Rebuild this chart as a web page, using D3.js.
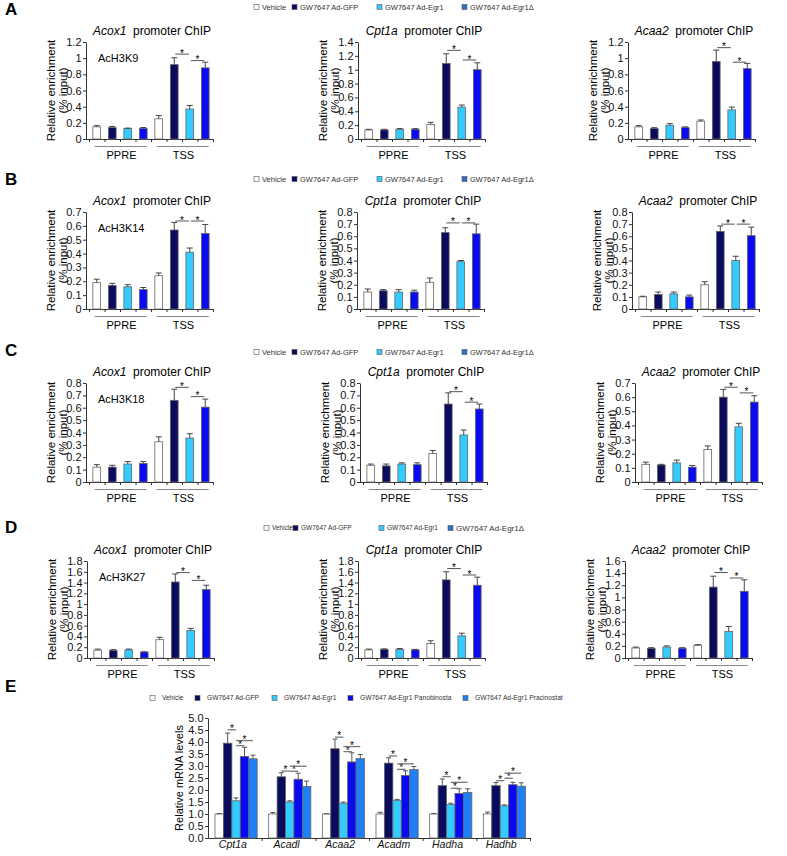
<!DOCTYPE html>
<html>
<head>
<meta charset="utf-8">
<script src="https://cdn.jsdelivr.net/npm/d3@7"></script>
<style>
  body { margin: 0; background: #fff; }
  svg { display: block; font-family: Arial, "Liberation Sans", sans-serif; }
  .axis path, .axis line { stroke: #333; }
  .axis text { font-size: 11px; fill: #111; font-family: Arial, "Liberation Sans", sans-serif; }
</style>
</head>
<body>
<svg id="fig" width="787" height="856"></svg>
<script>
// ---- ChIP panels (A-D) ----
const chipSeries = ["Vehicle", "GW7647 Ad-GFP", "GW7647 Ad-Egr1", "GW7647 Ad-Egr1\u0394"];
const chipColors = ["#ffffff", "#0b0b5e", "#33ccff", "#0a0af0"];
const chipLegendColors = ["#ffffff", "#0b0b5e", "#33ccff", "#2f6fc9"];
const regions = ["PPRE", "TSS"];
const genes = ["Acox1", "Cpt1a", "Acaa2"];
const marks = ["AcH3K9", "AcH3K14", "AcH3K18", "AcH3K27"];

// each gene: PPRE (4 series) then TSS (4 series)
const k9Values = [
  [0.15, 0.14, 0.13, 0.13, 0.25, 0.92, 0.37, 0.88],
  [0.13, 0.13, 0.14, 0.14, 0.21, 1.09, 0.46, 1.00],
  [0.15, 0.13, 0.17, 0.14, 0.22, 0.96, 0.36, 0.87]
];
const k9Errors = [
  [0.015, 0.015, 0.005, 0.012, 0.04, 0.085, 0.045, 0.07],
  [0.01, 0.01, 0.01, 0.01, 0.03, 0.14, 0.03, 0.10],
  [0.015, 0.01, 0.02, 0.01, 0.015, 0.14, 0.035, 0.065]
];
const k9Sig = [[1.05, 0.97], [1.28, 1.14], [1.13, 0.95]];
const k9Max = [1.2, 1.4, 1.2];

const k14Values = [
  [0.19, 0.17, 0.16, 0.14, 0.24, 0.57, 0.41, 0.545],
  [0.14, 0.15, 0.14, 0.14, 0.22, 0.63, 0.39, 0.62],
  [0.10, 0.12, 0.125, 0.10, 0.20, 0.64, 0.40, 0.605]
];
const k14Errors = [
  [0.025, 0.015, 0.015, 0.015, 0.02, 0.055, 0.03, 0.065],
  [0.025, 0.01, 0.02, 0.015, 0.035, 0.04, 0.01, 0.08],
  [0.005, 0.02, 0.015, 0.015, 0.025, 0.045, 0.035, 0.07]
];
const k14Sig = [[0.635, 0.635], [0.71, 0.71], [0.70, 0.70]];
const k14Max = [0.7, 0.8, 0.8];

const k18Values = [
  [0.12, 0.12, 0.145, 0.15, 0.325, 0.66, 0.355, 0.605],
  [0.135, 0.13, 0.145, 0.14, 0.23, 0.63, 0.38, 0.59],
  [0.125, 0.12, 0.135, 0.105, 0.23, 0.60, 0.39, 0.565]
];
const k18Errors = [
  [0.02, 0.015, 0.02, 0.015, 0.04, 0.09, 0.035, 0.065],
  [0.01, 0.015, 0.01, 0.015, 0.025, 0.09, 0.04, 0.04],
  [0.015, 0.005, 0.02, 0.012, 0.025, 0.055, 0.025, 0.045]
];
const k18Sig = [[0.765, 0.69], [0.73, 0.645], [0.67, 0.63]];
const k18Max = [0.8, 0.8, 0.7];

const k27Values = [
  [0.145, 0.14, 0.15, 0.11, 0.34, 1.41, 0.51, 1.27],
  [0.15, 0.16, 0.16, 0.15, 0.27, 1.45, 0.41, 1.35],
  [0.165, 0.16, 0.18, 0.16, 0.21, 1.17, 0.44, 1.10]
];
const k27Errors = [
  [0.02, 0.015, 0.015, 0.005, 0.045, 0.15, 0.04, 0.08],
  [0.015, 0.01, 0.015, 0.01, 0.05, 0.15, 0.05, 0.15],
  [0.015, 0.01, 0.02, 0.01, 0.01, 0.18, 0.08, 0.19]
];
const k27Sig = [[1.585, 1.44], [1.66, 1.54], [1.41, 1.32]];
const k27Max = [1.8, 1.8, 1.6];

// ---- mRNA panel (E) ----
const mrnaSeries = ["Vehicle", "GW7647 Ad-GFP", "GW7647 Ad-Egr1", "GW7647 Ad-Egr1 Panobinosta", "GW7647 Ad-Egr1 Pracinostat"];
const mrnaColors = ["#ffffff", "#0b0b5e", "#33ccff", "#0a0af0", "#1f7ff5"];
const mrnaGenes = ["Cpt1a", "Acadl", "Acaa2", "Acadm", "Hadha", "Hadhb"];
const mrnaVehicle = [1.0, 1.0, 1.0, 1.0, 1.0, 1.0];
const mrnaGfp = [3.95, 2.55, 3.72, 3.12, 2.18, 2.18];
const mrnaEgr1 = [1.55, 1.50, 1.45, 1.57, 1.40, 1.34];
const mrnaPano = [3.40, 2.45, 3.17, 2.60, 1.85, 2.22];
const mrnaPraci = [3.30, 2.15, 3.31, 2.85, 1.90, 2.16];
const mrnaVehicleErr = [0.02, 0.06, 0.01, 0.07, 0.02, 0.08];
const mrnaGfpErr = [0.42, 0.17, 0.40, 0.22, 0.28, 0.13];
const mrnaEgr1Err = [0.12, 0.05, 0.05, 0.04, 0.05, 0.04];
const mrnaPanoErr = [0.38, 0.25, 0.38, 0.20, 0.20, 0.10];
const mrnaPraciErr = [0.15, 0.22, 0.17, 0.13, 0.15, 0.14];
const sigGfpEgr1 = [4.51, 2.79, 4.20, 3.42, 2.56, 2.39];
const sigEgr1Pano = [3.85, 2.78, 3.60, 2.86, 2.07, 2.49];
const sigEgr1Praci = [4.06, 2.99, 3.81, 3.09, 2.32, 2.70];

const svg = d3.select("#fig");
svg.append("rect").attr("width", 787).attr("height", 856).attr("fill", "#fff");

const chipRows = [
  { mark: marks[0], values: k9Values, errors: k9Errors, sig: k9Sig, max: k9Max },
  { mark: marks[1], values: k14Values, errors: k14Errors, sig: k14Sig, max: k14Max },
  { mark: marks[2], values: k18Values, errors: k18Errors, sig: k18Sig, max: k18Max },
  { mark: marks[3], values: k27Values, errors: k27Errors, sig: k27Sig, max: k27Max }
];

// layout per row: x of y-axis for each chart, baseline and top tick pixel
const rowLayout = [
  { xs: [86, 358, 628], y0: 139, top: 42, legendY: 7, letter: "A", letterY: 15 },
  { xs: [86, 357, 632], y0: 309, top: 212, legendY: 179, letter: "B", letterY: 185 },
  { xs: [86, 360, 635], y0: 482, top: 383, legendY: 352, letter: "C", letterY: 356 },
  { xs: [87, 358, 625], y0: 658, top: 561, legendY: 528, letter: "D", letterY: 533 }
];

function chipChart(x0, y0, yTop, gene, mark, max, vals, errs, sig) {
  const g = svg.append("g");
  const w = 127;
  const keys = regions.flatMap(r => chipSeries.map(s => r + "|" + s));
  const x = d3.scaleBand().domain(keys).range([x0 + 3, x0 + w]);
  const y = d3.scaleLinear().domain([0, max]).range([y0, yTop]);
  const step = max <= 0.8 ? 0.1 : 0.2;
  const cx = k => x(k) + x.bandwidth() / 2;
  const bw = x.bandwidth() * 0.5;
  const data = keys.map((k, i) => ({ k, s: i % 4, v: vals[i], e: errs[i] }));

  g.append("g").attr("class", "axis").attr("transform", `translate(${x0},0)`)
    .call(d3.axisLeft(y).tickValues(d3.ticks(0, max, Math.round(max / step)))
      .tickFormat(d3.format("~g")).tickSize(3).tickSizeOuter(0).tickPadding(1.5));

  const xt = d3.scaleLinear().domain([0, 8]).range(x.range());
  const xa = g.append("g").attr("class", "axis").attr("transform", `translate(0,${y0})`)
    .call(d3.axisBottom(xt).tickValues(d3.range(9)).tickFormat("").tickSize(3).tickSizeOuter(0));
  xa.select(".domain").attr("d", `M${x0},0.5H${x0 + w}`);

  g.selectAll("rect.bar").data(data).join("rect").attr("class", "bar")
    .attr("x", d => cx(d.k) - bw / 2).attr("y", d => y(d.v))
    .attr("width", bw).attr("height", d => y(0) - y(d.v))
    .attr("fill", d => chipColors[d.s]).attr("stroke", "#666").attr("stroke-width", 0.8);

  const eb = g.selectAll("g.err").data(data.filter(d => d.e > 0)).join("g").attr("class", "err")
    .attr("stroke", "#444").attr("stroke-width", 1);
  eb.append("line").attr("x1", d => cx(d.k)).attr("x2", d => cx(d.k))
    .attr("y1", d => y(d.v)).attr("y2", d => y(d.v + d.e));
  eb.append("line").attr("x1", d => cx(d.k) - 3).attr("x2", d => cx(d.k) + 3)
    .attr("y1", d => y(d.v + d.e)).attr("y2", d => y(d.v + d.e));

  [[5, 6], [6, 7]].forEach(([a, b], i) => {
    const yy = y(sig[i]);
    const xa1 = cx(keys[a]) + 1, xb1 = cx(keys[b]) - 1;
    g.append("line").attr("x1", xa1).attr("x2", xb1).attr("y1", yy).attr("y2", yy)
      .attr("stroke", "#555").attr("stroke-width", 1);
    g.append("text").attr("x", (xa1 + xb1) / 2).attr("y", yy + 2.5).attr("text-anchor", "middle")
      .attr("font-size", 10).text("*");
  });

  regions.forEach(r => {
    const first = cx(r + "|" + chipSeries[0]), last = cx(r + "|" + chipSeries[3]);
    g.append("line").attr("x1", first - 2).attr("x2", last + 3.5)
      .attr("y1", y0 + 7.5).attr("y2", y0 + 7.5).attr("stroke", "#888").attr("stroke-width", 1);
    g.append("text").attr("x", (first + last) / 2 + 1.5).attr("y", y0 + 20)
      .attr("text-anchor", "middle").attr("font-size", 11).text(r);
  });

  const yl = g.append("text").attr("transform", `translate(${x0 - 31},${(y0 + yTop) / 2}) rotate(-90)`)
    .attr("text-anchor", "middle").attr("font-size", 11.5);
  yl.append("tspan").attr("x", 0).attr("y", 0).text("Relative enrichment");
  yl.append("tspan").attr("x", 0).attr("y", 12).text("(% input)");

  const t = g.append("text").attr("x", x0 + 66).attr("y", yTop - 7)
    .attr("text-anchor", "middle").attr("font-size", 12);
  t.append("tspan").attr("font-style", "italic").text(gene);
  t.append("tspan").text("\u00a0 promoter ChIP");

  if (mark) {
    g.append("text").attr("x", x0 + 12).attr("y", yTop + 20).attr("font-size", 11).text(mark);
  }
}

function legend(y, sqX, labels, colors, sizes, gap) {
  const g = svg.append("g");
  labels.forEach((l, i) => {
    g.append("rect").attr("x", sqX[i]).attr("y", y - 2.5).attr("width", 5).attr("height", 5)
      .attr("fill", colors[i]).attr("stroke", "#555").attr("stroke-width", 0.6);
    g.append("text").attr("x", sqX[i] + gap).attr("y", y + sizes[i] * 0.36)
      .attr("font-size", sizes[i]).attr("fill", "#333").text(l);
  });
}

chipRows.forEach((row, ri) => {
  const L = rowLayout[ri];
  genes.forEach((gene, gi) => {
    chipChart(L.xs[gi], L.y0, L.top, gene, gi === 0 ? row.mark : null,
      row.max[gi], row.values[gi], row.errors[gi], row.sig[gi]);
  });
  if (ri < 3) legend(L.legendY, [254, 292, 377, 462], chipSeries, chipLegendColors, [7.5, 7.5, 7.5, 7.5], 8);
  else legend(L.legendY, [264, 293, 379, 448], chipSeries, chipLegendColors, [6.5, 6.5, 6.5, 8], 8);
  svg.append("text").attr("x", 5).attr("y", L.letterY).attr("font-size", 17)
    .attr("font-weight", "bold").text(L.letter);
});

// ---- panel E ----
(function mrnaChart() {
  const x0 = 208, x1 = 530, y0 = 838, yTop = 718;
  const g = svg.append("g");
  const gx = d3.scaleBand().domain(mrnaGenes).range([x0, x1]);
  const sx = d3.scaleBand().domain(mrnaSeries).range([7, gx.bandwidth() - 4.5]);
  const y = d3.scaleLinear().domain([0, 5]).range([y0, yTop]);
  const vals = [mrnaVehicle, mrnaGfp, mrnaEgr1, mrnaPano, mrnaPraci];
  const errs = [mrnaVehicleErr, mrnaGfpErr, mrnaEgr1Err, mrnaPanoErr, mrnaPraciErr];
  const data = mrnaGenes.flatMap((gn, gi) => mrnaSeries.map((s, si) =>
    ({ g: gn, s, si, v: vals[si][gi], e: errs[si][gi] })));
  const cx = d => gx(d.g) + sx(d.s) + sx.bandwidth() / 2;

  g.append("g").attr("class", "axis").attr("transform", `translate(${x0},0)`)
    .call(d3.axisLeft(y).tickValues(d3.ticks(0, 5, 10)).tickFormat(d3.format(".1f"))
      .tickSize(3).tickSizeOuter(0).tickPadding(1.5));

  const xt = d3.scaleLinear().domain([0, mrnaGenes.length]).range([x0, x1]);
  g.append("g").attr("class", "axis").attr("transform", `translate(0,${y0})`)
    .call(d3.axisBottom(xt).tickValues(d3.range(1, mrnaGenes.length + 1)).tickFormat("")
      .tickSize(3).tickSizeOuter(0));

  const lab = g.append("g").attr("class", "axis").attr("transform", `translate(-2,${y0})`)
    .call(d3.axisBottom(gx).tickSize(0).tickPadding(2.5));
  lab.select(".domain").remove();
  lab.selectAll("text").attr("font-style", "italic").style("font-size", "10.5px");

  g.selectAll("rect.bar").data(data).join("rect").attr("class", "bar")
    .attr("x", d => gx(d.g) + sx(d.s)).attr("y", d => y(d.v))
    .attr("width", sx.bandwidth()).attr("height", d => y(0) - y(d.v))
    .attr("fill", d => mrnaColors[d.si]).attr("stroke", "#666").attr("stroke-width", 0.8);

  const eb = g.selectAll("g.err").data(data).join("g").attr("class", "err")
    .attr("stroke", "#555").attr("stroke-width", 1);
  eb.append("line").attr("x1", cx).attr("x2", cx)
    .attr("y1", d => y(d.v)).attr("y2", d => y(d.v + d.e));
  eb.append("line").attr("x1", d => cx(d) - 2.5).attr("x2", d => cx(d) + 2.5)
    .attr("y1", d => y(d.v + d.e)).attr("y2", d => y(d.v + d.e));

  const sigs = [[1, 2, sigGfpEgr1], [2, 3, sigEgr1Pano], [2, 4, sigEgr1Praci]];
  mrnaGenes.forEach((gn, gi) => {
    sigs.forEach(([a, b, hs]) => {
      const xa1 = cx({ g: gn, s: mrnaSeries[a] }), xb1 = cx({ g: gn, s: mrnaSeries[b] });
      const yy = y(hs[gi]);
      g.append("line").attr("x1", xa1).attr("x2", xb1).attr("y1", yy).attr("y2", yy)
        .attr("stroke", "#777").attr("stroke-width", 1.3);
      g.append("text").attr("x", (xa1 + xb1) / 2).attr("y", yy + 2).attr("text-anchor", "middle")
        .attr("font-size", 10).text("*");
    });
  });

  g.append("text").attr("transform", `translate(${x0 - 25},${(y0 + yTop) / 2}) rotate(-90)`)
    .attr("text-anchor", "middle").attr("font-size", 11).text("Relative mRNA levels");

  legend(698, [150, 195, 272, 348, 463], mrnaSeries, mrnaColors, [6.7, 6.7, 6.7, 6.7, 6.7], 12);
  svg.append("text").attr("x", 5).attr("y", 692).attr("font-size", 17)
    .attr("font-weight", "bold").text("E");
})();
</script>
</body>
</html>
